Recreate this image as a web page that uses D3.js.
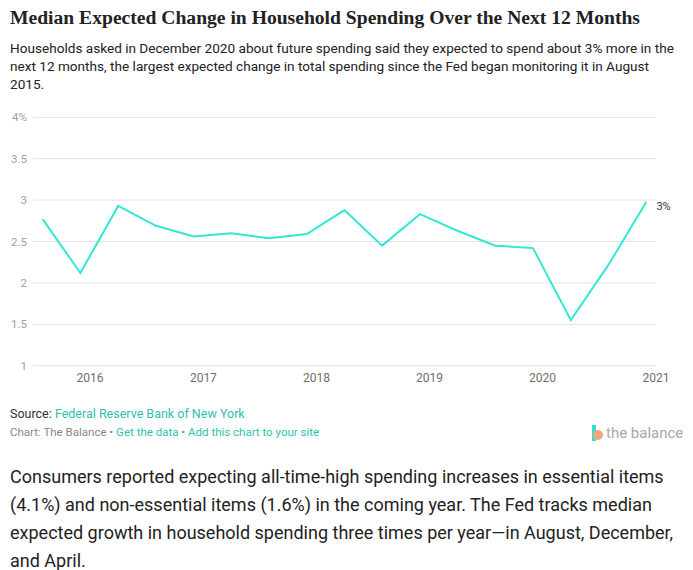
<!DOCTYPE html>
<html>
<head>
<meta charset="utf-8">
<script src="https://cdn.jsdelivr.net/npm/d3@7"></script>
<style>
  body { margin: 0; background: #fff; width: 693px; height: 570px; overflow: hidden; position: relative; font-family: Roboto, "Open Sans", sans-serif; }
  #title { position: absolute; left: 10px; top: 7px; font-family: "Liberation Serif", serif; font-size: 19.6px; font-weight: bold; color: #222; white-space: nowrap; }
  #sub { position: absolute; left: 10px; top: 39px; width: 669px; font-size: 13.6px; line-height: 18px; color: #222; }
  #chart { position: absolute; left: 0; top: 100px; }
  #source { position: absolute; left: 10px; top: 406px; font-size: 12.5px; color: #333; }
  #credit { position: absolute; left: 10px; top: 425px; font-size: 11.5px; color: #888; }
  .lnk { color: #2fbfae; }
  #logo { position: absolute; left: 590px; top: 424px; }
  #para { position: absolute; left: 10px; top: 463px; width: 682px; font-size: 18px; line-height: 28px; color: #222; }
</style>
</head>
<body>
<div id="title">Median Expected Change in Household Spending Over the Next 12 Months</div>
<div id="sub">Households asked in December 2020 about future spending said they expected to spend about 3% more in the next 12 months, the largest expected change in total spending since the Fed began monitoring it in August 2015.</div>
<svg id="chart" width="693" height="290"></svg>
<div id="source">Source: <span class="lnk">Federal Reserve Bank of New York</span></div>
<div id="credit">Chart: The Balance • <span class="lnk">Get the data</span> • <span class="lnk">Add this chart to your site</span></div>
<svg id="logo" width="100" height="20"></svg>
<div id="para">Consumers reported expecting all-time-high spending increases in essential items (4.1%) and non-essential items (1.6%) in the coming year. The Fed tracks median expected growth in household spending three times per year—in August, December, and April.</div>
<script>
// survey dates (Aug / Dec / Apr waves)
const dates = [
  "2015-08", "2015-12",
  "2016-04", "2016-08", "2016-12",
  "2017-04", "2017-08", "2017-12",
  "2018-04", "2018-08", "2018-12",
  "2019-04", "2019-08", "2019-12",
  "2020-04", "2020-08", "2020-12"
];
const spending = [
  2.77, 2.12,
  2.93, 2.69, 2.56,
  2.60, 2.54, 2.59,
  2.88, 2.45, 2.83,
  2.63, 2.45, 2.42,
  1.55, 2.22, 2.98
];
const yTicks = [1, 1.5, 2, 2.5, 3, 3.5, 4];
const xTicks = [2016, 2017, 2018, 2019, 2020, 2021];
const lastLabel = "3%";

const parse = d3.timeParse("%Y-%m");
const data = dates.map((d, i) => ({ date: parse(d), v: spending[i] }));

const svg = d3.select("#chart");
const gLeft = 33, gRight = 656, gTop = 17.3, gBottom = 265.7;

const x = d3.scaleTime()
  .domain([new Date(2016, 0, 1), new Date(2021, 0, 1)])
  .range([90, 656]);
const y = d3.scaleLinear().domain([1, 4]).range([gBottom, gTop]);

/* Grid */
svg.append("g")
  .selectAll("line")
  .data(yTicks)
  .join("line")
    .attr("x1", gLeft).attr("x2", gRight)
    .attr("y1", d => y(d)).attr("y2", d => y(d))
    .attr("stroke", "#e3e3e3")
    .attr("stroke-width", 1);

/* Y labels */
svg.append("g")
  .selectAll("text")
  .data(yTicks)
  .join("text")
    .attr("x", 27).attr("y", d => y(d))
    .attr("dy", "0.35em")
    .attr("text-anchor", "end")
    .attr("fill", "#a0a0a0")
    .style("font-size", "11.5px")
    .text((d, i) => i === yTicks.length - 1 ? d + "%" : d);

/* X labels */
svg.append("g")
  .selectAll("text")
  .data(xTicks)
  .join("text")
    .attr("x", d => x(new Date(d, 0, 1)))
    .attr("y", 278)
    .attr("dy", "0.35em")
    .attr("text-anchor", "middle")
    .attr("fill", "#6e6e6e")
    .style("font-size", "12px")
    .text(d => d);

/* Line */
const line = d3.line().x(d => x(d.date)).y(d => y(d.v));
svg.append("path")
  .datum(data)
  .attr("fill", "none")
  .attr("stroke", "#33e8d3")
  .attr("stroke-width", 2)
  .attr("d", line);

const last = data[data.length - 1];
svg.append("text")
  .attr("x", x(last.date) + 10)
  .attr("y", y(last.v) + 4)
  .attr("dy", "0.35em")
  .attr("fill", "#333")
  .style("font-size", "11px")
  .text(lastLabel);

/* Logo */
const logo = d3.select("#logo");
logo.append("rect").attr("x", 2).attr("y", 1).attr("width", 4).attr("height", 16).attr("fill", "#34e0c9");
logo.append("circle").attr("cx", 8).attr("cy", 11).attr("r", 5).attr("fill", "#f4a77c");
logo.append("text").attr("x", 16).attr("y", 14)
  .attr("fill", "#a8a8a8")
  .style("font-size", "15px")
  .text("the balance");
</script>
</body>
</html>
